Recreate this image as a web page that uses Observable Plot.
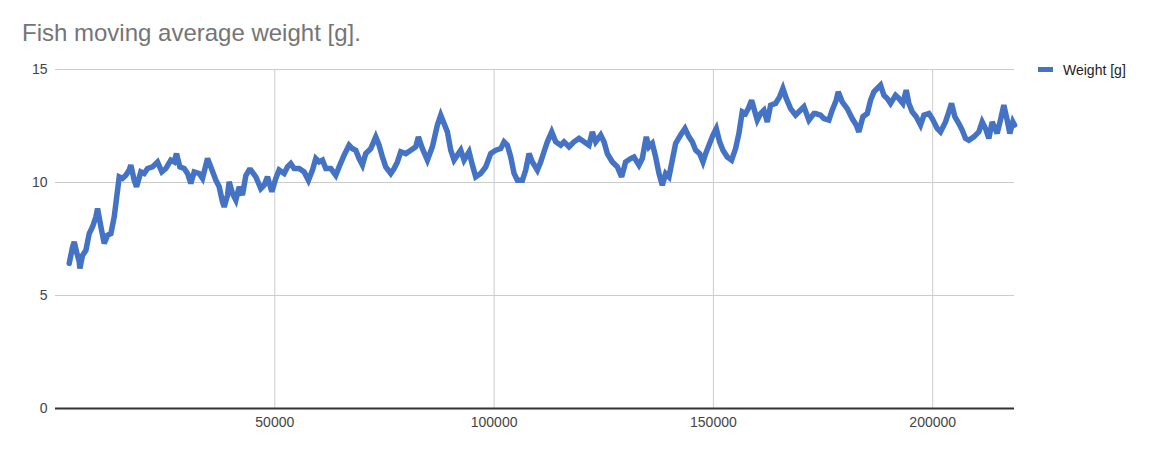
<!DOCTYPE html>
<html>
<head>
<meta charset="utf-8">
<script src="https://cdn.jsdelivr.net/npm/d3@7"></script>
<script src="https://cdn.jsdelivr.net/npm/@observablehq/plot@0.6"></script>
<style>
  html, body { margin: 0; padding: 0; background: #fff; }
  #wrap { position: relative; width: 1151px; height: 453px; font-family: "Liberation Sans", Arial, sans-serif; }
  #title { position: absolute; left: 22px; top: 21px; font-size: 24px; line-height: 24px; color: #757575; white-space: nowrap; }
  #legend { position: absolute; left: 1038px; top: 63px; font-size: 14px; line-height: 14px; color: #222; white-space: nowrap; }
  #legend .sw { display: inline-block; width: 15px; height: 5px; background: #4472c4; vertical-align: middle; margin-right: 10px; position: relative; top: -2px; }
</style>
</head>
<body>
<div id="wrap">
  <div id="chart"></div>
  <div id="title">Fish moving average weight [g].</div>
  <div id="legend"><span class="sw"></span>Weight [g]</div>
</div>
<script>
const seriesName = "Weight [g]";
const steps = [
  3130, 3890, 4270, 4800, 5410, 5560, 6170, 6930, 7690, 8450, 9210, 9590, 10350, 11110, 11870, 12630, 13390, 14150, 14530, 15280,
  16040, 16800, 17180, 17940, 18480, 19460, 20220, 20980, 22120, 23260, 24250, 25160, 26300, 27060, 27590, 28350, 29340, 30100, 30860, 31620,
  32760, 33520, 34660, 35420, 36560, 37320, 38080, 38460, 39220, 39600, 40360, 41120, 41870, 42630, 43390, 44150,
  44530, 45670, 46810, 47570, 48330, 49320, 50230, 50990, 52130, 52890, 53650, 54410, 55550, 56690, 57670, 58590, 59350, 60110, 60870, 61630,
  62760, 63900, 64660, 65800, 66940, 67700, 68460, 69220, 69980, 70740, 71880, 73020, 73780, 74540, 75300, 76440, 77200, 77960, 78720, 79860,
  81000, 82140, 82740, 83650, 84790, 85930, 87070, 87830,
  88590, 89350, 90110, 90870, 91630, 92390, 93150, 94290, 95050, 95810, 96950, 98090, 99230, 100370, 101510, 102270, 103030, 103790, 104550, 105310,
  106450, 107210, 107970, 108730, 109860, 110620, 111380, 112140, 113130, 114040, 115180, 115940, 117080, 118220, 119360, 120500, 121640, 122400, 123160, 124300,
  125060, 125820, 126960, 128100, 129080, 129990, 131140,
  131890, 133030, 133790, 134700, 135310, 136070, 136830, 137590, 138350, 139110, 139870, 140630, 141390, 142530, 143520, 144430, 145190, 145950, 146860, 147620,
  148230, 148990, 149900, 150660, 151420, 152180, 153160, 154150, 155060, 155820, 156580, 157340, 157950, 158710, 159240, 160000, 160760, 161520, 162280, 163040,
  164180, 165090, 165850, 166610, 167600, 168740, 169500, 170640, 171780, 172920,
  173300, 174430, 175190, 176330, 177090, 178000, 178460, 179370, 180510, 181650, 182560, 183170, 184080, 185070, 185830, 186590, 187350, 188110, 188870, 189630,
  190390, 191530, 192290, 193200, 193960, 194570, 195330, 196240, 197230, 197990, 199130, 199890, 201020, 201780, 202920, 203680, 204290, 205050, 205960, 206720,
  207480, 208240, 209380, 210520, 211280, 212040, 212800, 213560, 214700, 215450, 216210, 216980, 217590, 218270, 218650
];
const weights = [
  6.42, 7.15, 7.37, 6.93, 6.49, 6.2, 6.78, 7.0, 7.74, 8.04, 8.48, 8.85, 8.04, 7.3, 7.67, 7.74, 8.48, 9.66, 10.25, 10.18,
  10.32, 10.55, 10.77, 10.1, 9.81, 10.47, 10.4, 10.62, 10.69, 10.91, 10.47, 10.62, 10.99, 10.91, 11.28, 10.69, 10.62, 10.4, 9.96, 10.47,
  10.4, 10.18, 11.06, 10.69, 10.1, 9.81, 9.14, 8.92, 9.44, 10.03, 9.51, 9.22, 9.81, 9.44, 10.3, 10.55,
  10.55, 10.25, 9.73, 9.88, 10.25, 9.59, 10.18, 10.55, 10.4, 10.69, 10.84, 10.62, 10.62, 10.47, 10.1, 10.55, 11.06, 10.91, 10.99, 10.62,
  10.62, 10.32, 10.69, 11.21, 11.65, 11.5, 11.43, 11.06, 10.77, 11.28, 11.5, 12.02, 11.65, 11.13, 10.69, 10.4, 10.62, 10.91, 11.36, 11.28,
  11.43, 11.58, 12.02, 11.5, 10.99, 11.58, 12.54, 12.98,
  12.61, 12.24, 11.43, 10.99, 11.21, 11.43, 10.99, 11.36, 10.77, 10.25, 10.4, 10.69, 11.28, 11.43, 11.5, 11.8, 11.65, 11.13, 10.4, 10.1,
  10.1, 10.55, 11.28, 10.91, 10.55, 10.91, 11.36, 11.8, 12.24, 11.8, 11.65, 11.8, 11.58, 11.8, 11.95, 11.8, 11.65, 12.24, 11.8, 12.1,
  11.8, 11.28, 10.91, 10.69, 10.25, 10.91, 11.06,
  11.13, 10.77, 11.06, 12.02, 11.58, 11.73, 11.13, 10.4, 9.88, 10.4, 10.25, 10.99, 11.73, 12.1, 12.39, 12.02, 11.8, 11.43, 11.28, 10.91,
  11.28, 11.65, 12.1, 12.39, 11.8, 11.43, 11.13, 10.99, 11.5, 12.17, 13.13, 13.05, 13.27, 13.64, 13.27, 12.76, 13.05, 13.2, 12.68, 13.42,
  13.5, 13.79, 14.16, 13.72, 13.27, 12.98, 13.13, 13.35, 12.76, 13.05,
  13.05, 12.98, 12.83, 12.76, 13.2, 13.64, 14.01, 13.57, 13.27, 12.83, 12.54, 12.24, 12.91, 13.05, 13.64, 14.01, 14.16, 14.31, 13.86, 13.72,
  13.5, 13.86, 13.72, 13.5, 14.09, 13.5, 13.13, 12.91, 12.54, 12.98, 13.05, 12.83, 12.39, 12.24, 12.68, 13.13, 13.5, 12.91, 12.61, 12.32,
  11.95, 11.87, 12.02, 12.24, 12.68, 12.39, 11.95, 12.68, 12.17, 12.76, 13.42, 12.76, 12.17, 12.68, 12.54
];
const xTicks = [50000, 100000, 150000, 200000];
const yTicks = [0, 5, 10, 15];

const data = steps.map((s, i) => ({ step: s, weight: weights[i], series: seriesName }));

const chart = Plot.plot({
  width: 1151,
  height: 453,
  marginLeft: 55,
  marginRight: 137,
  marginTop: 69,
  marginBottom: 45,
  style: { fontFamily: "'Liberation Sans', Arial, sans-serif", fontSize: "14px", color: "#444", background: "#fff" },
  x: { domain: [0, 218650], ticks: xTicks, tickFormat: d => String(d) },
  y: { domain: [0, 15], ticks: yTicks },
  marks: [
    Plot.gridX(xTicks, { stroke: "#cccccc", strokeOpacity: 1, strokeWidth: 1 }),
    Plot.gridY(yTicks, { stroke: "#cccccc", strokeOpacity: 1, strokeWidth: 1 }),
    Plot.axisY(yTicks, { tickSize: 0, tickPadding: 8, label: null, fill: "#444", fontSize: 14 }),
    Plot.axisX(xTicks, { tickSize: 0, tickPadding: 9, label: null, fill: "#444", fontSize: 14, tickFormat: d => String(d) }),
    Plot.ruleY([0], { stroke: "#333", strokeWidth: 2 }),
    Plot.line(data, { x: "step", y: "weight", stroke: "#4472c4", strokeWidth: 5.5, strokeLinejoin: "miter", strokeMiterlimit: 3 })
  ]
});
document.getElementById("chart").appendChild(chart);
</script>
</body>
</html>
